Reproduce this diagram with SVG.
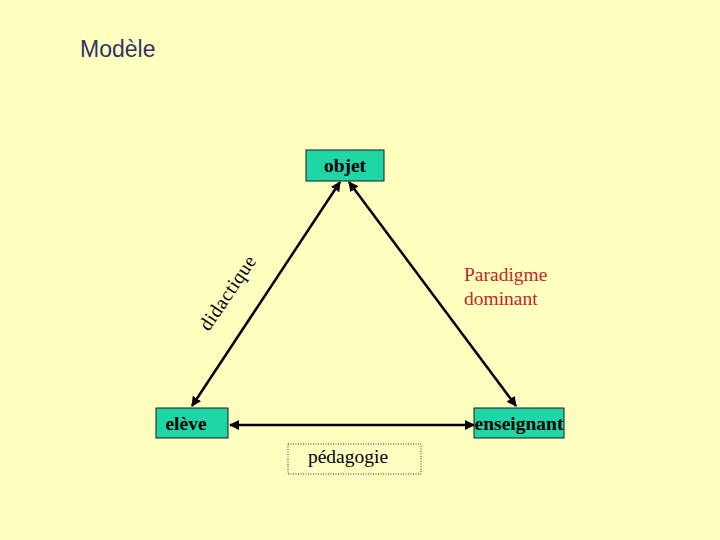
<svg xmlns="http://www.w3.org/2000/svg" width="720" height="540" viewBox="0 0 720 540">
<style>
.node rect{fill:#1ED6A6;stroke:#1a1a1a;stroke-width:1}
.nt{font-family:"Liberation Serif",serif;font-weight:bold;font-size:19.5px;fill:#000;text-anchor:middle}
.lbl{font-family:"Liberation Serif",serif;font-size:19.5px}
.con line{stroke:#000;stroke-width:2.5;marker-start:url(#ah);marker-end:url(#ah)}
</style>
<defs>
<marker id="ah" viewBox="0 0 10 10" refX="9" refY="5" markerWidth="4" markerHeight="4" orient="auto-start-reverse" markerUnits="strokeWidth">
<path d="M0,0 L10,5 L0,10 z" fill="#000"/>
</marker>
</defs>
<rect width="720" height="540" fill="#FFFFC0"/>
<text x="80" y="57" font-family="Liberation Sans,Arial,sans-serif" font-size="23" fill="#333366">Modèle</text>
<g class="con">
<line x1="192" y1="406" x2="340" y2="182"/>
<line x1="349" y1="182" x2="516" y2="406"/>
<line x1="230" y1="425" x2="474" y2="425"/>
</g>
<g id="objet" class="node"><rect x="306" y="150" width="78" height="31"/><text class="nt" x="345" y="172">objet</text></g>
<g id="eleve" class="node"><rect x="156" y="408" width="72" height="30"/><text class="nt" x="186" y="430">elève</text></g>
<g id="enseignant" class="node"><rect x="474" y="408" width="90" height="30"/><text class="nt" x="519" y="430">enseignant</text></g>
<g id="pedagogie"><rect x="288" y="444" width="133" height="30" fill="none" stroke="#333" stroke-width="1" stroke-dasharray="1,1.5"/><text class="lbl" x="348" y="463" text-anchor="middle">pédagogie</text></g>
<text class="lbl" x="228" y="299" text-anchor="middle" letter-spacing="0.5" transform="rotate(-56 228 293)">didactique</text>
<text class="lbl" x="464" y="281" fill="#C0282A">Paradigme</text>
<text class="lbl" x="464" y="305" fill="#C0282A">dominant</text>
</svg>
